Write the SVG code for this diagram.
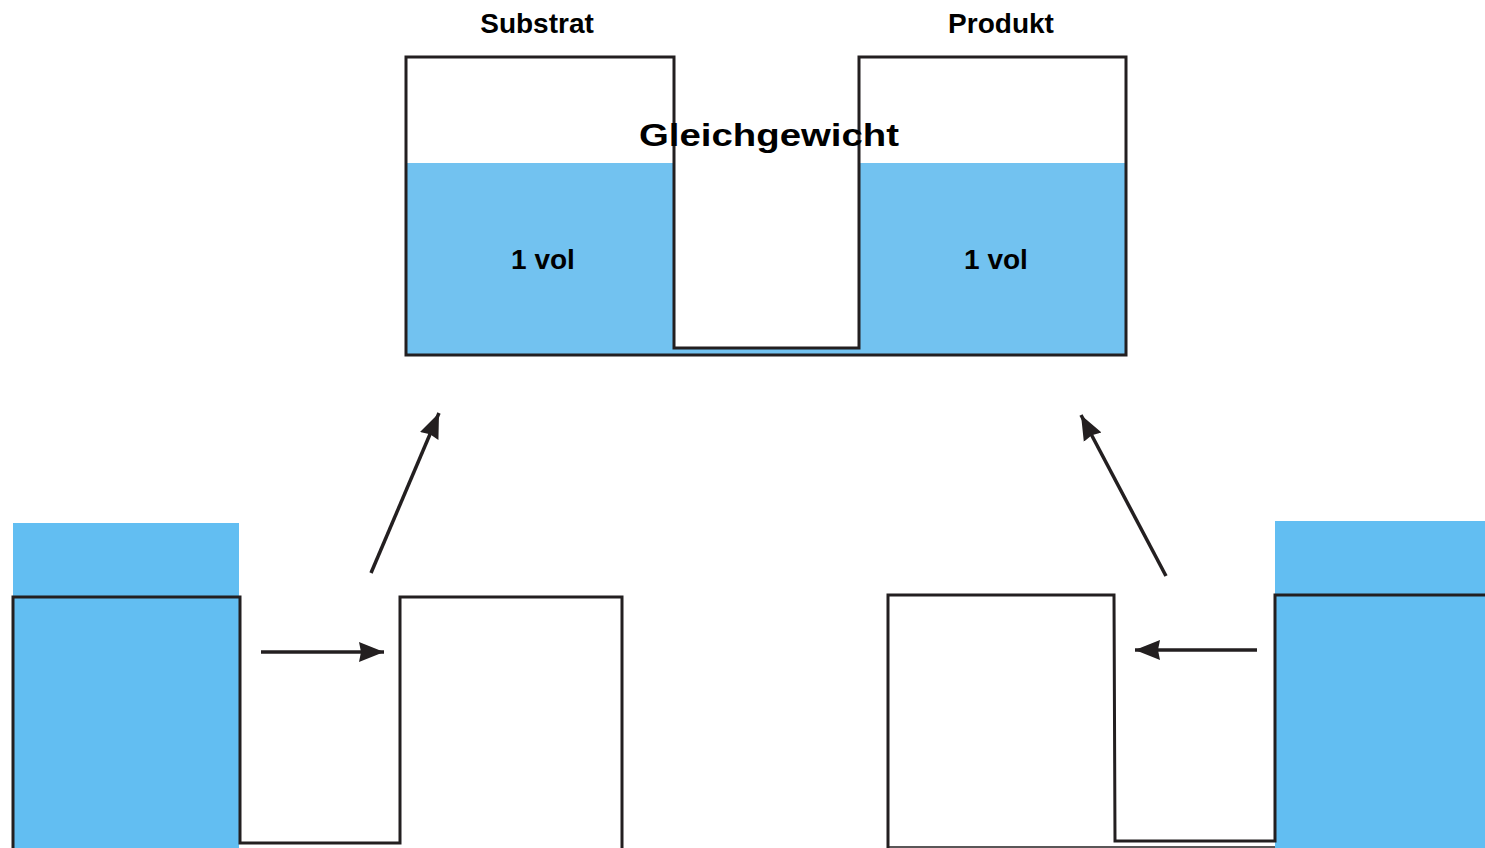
<svg xmlns="http://www.w3.org/2000/svg" width="1485" height="848" viewBox="0 0 1485 848">
<style>
.outline{fill:none;stroke:#231f20;stroke-width:3;stroke-linejoin:miter}
.conn{fill:none;stroke:#231f20;stroke-width:3.5}
.lbl{font-family:"Liberation Sans",Arial,sans-serif;font-weight:bold;fill:#000;text-anchor:middle}
</style>
<defs>
<marker id="ah" markerUnits="userSpaceOnUse" markerWidth="28" markerHeight="24" viewBox="0 0 28 24" refX="25" refY="12" orient="auto">
<path d="M0,2 L25,12 L0,22 L2,12 Z" fill="#231f20"/>
</marker>
</defs>
<rect width="1485" height="848" fill="#fff"/>
<g id="equilibrium">
<rect x="406" y="163" width="720" height="192" fill="#72c2f0"/>
<rect x="674" y="57" width="185" height="291" fill="#fff"/>
<path class="outline" d="M406,57 L674,57 L674,348 L859,348 L859,57 L1126,57 L1126,355 L406,355 Z"/>
<text class="lbl" x="769" y="146" font-size="31" textLength="260" lengthAdjust="spacingAndGlyphs">Gleichgewicht</text>
<text class="lbl" x="543" y="269" font-size="28">1 vol</text>
<text class="lbl" x="996" y="269" font-size="28">1 vol</text>
</g>
<g id="label-substrat"><text class="lbl" x="537" y="33" font-size="28">Substrat</text></g>
<g id="label-produkt"><text class="lbl" x="1001" y="33" font-size="28">Produkt</text></g>
<g id="start-substrat">
<rect x="13" y="523" width="226" height="325" fill="#62bef2"/>
<path class="outline" d="M13,848 L13,597 L240,597 L240,843 L400,843 L400,597 L622,597 L622,848"/>
</g>
<g id="start-produkt">
<rect x="1275" y="521" width="210" height="327" fill="#62bef2"/>
<path class="outline" d="M888,848 L888,595 L1114,595 L1115,841 L1275,841 L1275,595 L1485,595"/>
<line x1="888" y1="847" x2="1275" y2="847" stroke="#231f20" stroke-width="1.5"/>
</g>
<g id="connectors">
<line class="conn" x1="261" y1="652" x2="384" y2="652" marker-end="url(#ah)"/>
<line class="conn" x1="1257" y1="650" x2="1135" y2="650" marker-end="url(#ah)"/>
<line class="conn" x1="371" y1="573" x2="439" y2="413" marker-end="url(#ah)"/>
<line class="conn" x1="1166" y1="576" x2="1081" y2="415" marker-end="url(#ah)"/>
</g>
</svg>
